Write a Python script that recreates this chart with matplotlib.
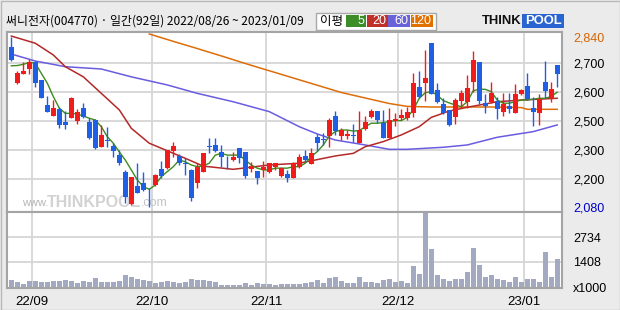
import numpy as np
import matplotlib
matplotlib.use('Agg')
import matplotlib.pyplot as plt
from matplotlib.patches import Rectangle

title = '써니전자(004770) · 일간(92일) 2022/08/26 ~ 2023/01/09'

# daily candles, 2022/08/26 .. 2023/01/09 (92 trading days)
opens = [2789, 2634, 2665, 2680, 2709, 2643, 2557, 2520, 2543, 2499,
         2513, 2502, 2546, 2499, 2505, 2326, 2372, 2331, 2284, 2227,
         2093, 2172, 2183, 2142, 2176, 2235, 2239, 2299, 2281, 2256,
         2233, 2186, 2227, 2333, 2338, 2294, 2258, 2267, 2319, 2295,
         2237, 2230, 2233, 2226, 2244, 2213, 2219, 2206, 2242, 2280,
         2253, 2395, 2382, 2400, 2519, 2400, 2400, 2407, 2354, 2448,
         2516, 2536, 2488, 2388, 2502, 2513, 2513, 2530, 2620, 2634,
         2810, 2609, 2560, 2540, 2517, 2571, 2568, 2637, 2706, 2563,
         2568, 2571, 2534, 2553, 2530, 2594, 2622, 2546, 2530, 2636,
         2580, 2695]
highs = [2840, 2673, 2706, 2722, 2713, 2643, 2588, 2574, 2549, 2536,
         2586, 2543, 2565, 2511, 2508, 2476, 2464, 2354, 2303, 2233,
         2210, 2256, 2227, 2162, 2218, 2265, 2304, 2357, 2288, 2273,
         2235, 2256, 2292, 2384, 2384, 2338, 2280, 2296, 2319, 2295,
         2259, 2230, 2262, 2258, 2258, 2244, 2233, 2259, 2288, 2303,
         2315, 2414, 2419, 2513, 2537, 2453, 2441, 2483, 2536, 2519,
         2542, 2536, 2540, 2546, 2529, 2543, 2551, 2668, 2675, 2771,
         2810, 2634, 2580, 2540, 2580, 2609, 2660, 2768, 2709, 2595,
         2637, 2586, 2597, 2599, 2629, 2611, 2668, 2586, 2595, 2713,
         2637, 2695]
lows = [2715, 2628, 2663, 2663, 2620, 2580, 2534, 2520, 2457, 2446,
        2511, 2483, 2511, 2377, 2310, 2322, 2326, 2277, 2250, 2096,
        2089, 2140, 2151, 2080, 2173, 2204, 2236, 2277, 2250, 2216,
        2107, 2162, 2225, 2290, 2296, 2244, 2235, 2265, 2258, 2206,
        2227, 2181, 2210, 2223, 2233, 2210, 2190, 2206, 2239, 2261,
        2253, 2299, 2338, 2322, 2407, 2372, 2377, 2361, 2354, 2441,
        2511, 2488, 2384, 2384, 2471, 2505, 2505, 2514, 2580, 2572,
        2595, 2565, 2526, 2469, 2483, 2546, 2546, 2603, 2560, 2530,
        2565, 2509, 2520, 2530, 2530, 2592, 2574, 2469, 2476, 2580,
        2568, 2618]
closes = [2719, 2668, 2674, 2709, 2632, 2582, 2534, 2546, 2476, 2476,
          2582, 2534, 2515, 2384, 2315, 2407, 2365, 2299, 2256, 2125,
          2210, 2142, 2154, 2140, 2216, 2212, 2302, 2331, 2258, 2252,
          2118, 2244, 2290, 2326, 2299, 2277, 2256, 2279, 2275, 2212,
          2247, 2206, 2244, 2256, 2256, 2241, 2206, 2256, 2277, 2267,
          2292, 2354, 2370, 2505, 2437, 2441, 2414, 2400, 2441, 2494,
          2536, 2505, 2388, 2505, 2508, 2522, 2534, 2634, 2583, 2651,
          2595, 2568, 2530, 2476, 2574, 2599, 2614, 2719, 2572, 2553,
          2599, 2543, 2560, 2542, 2595, 2609, 2576, 2534, 2576, 2605,
          2611, 2663]
volumes = [436, 345, 218, 381, 381, 327, 309, 363, 381, 436,
           363, 254, 381, 345, 527, 309, 345, 345, 381, 709,
           581, 490, 436, 381, 290, 345, 381, 345, 254, 345,
           490, 436, 418, 381, 345, 164, 164, 164, 164, 290,
           164, 254, 218, 200, 164, 218, 218, 218, 200, 290,
           345, 436, 290, 563, 618, 400, 254, 290, 618, 309,
           345, 290, 436, 490, 345, 381, 290, 1199, 763, 4033,
           2126, 709, 490, 400, 490, 490, 890, 2164, 1254, 600,
           709, 490, 436, 345, 600, 345, 490, 490, 345, 1926,
           600, 1581]

# moving averages
ma5 = [2692, 2693, 2697, 2706, 2701, 2666, 2632, 2586, 2546, 2528,
       2528, 2526, 2519, 2511, 2505, 2464, 2395, 2350, 2295, 2267,
       2233, 2198, 2169, 2157, 2176, 2210, 2227, 2244, 2267, 2261,
       2250, 2244, 2247, 2256, 2284, 2290, 2284, 2284, 2284, 2267,
       2250, 2239, 2233, 2233, 2239, 2239, 2239, 2244, 2244, 2256,
       2279, 2296, 2338, 2400, 2430, 2441, 2441, 2434, 2437, 2464,
       2488, 2488, 2492, 2499, 2503, 2503, 2514, 2540, 2580, 2599,
       2603, 2591, 2572, 2564, 2557, 2551, 2568, 2606, 2611, 2611,
       2603, 2574, 2563, 2563, 2568, 2574, 2574, 2577, 2580, 2580,
       2586, 2601]
ma20_day = [0, 4, 7, 9, 12, 15, 18, 20, 23, 26, 29, 32, 37, 43, 48, 54, 57,
            59, 62, 65, 68, 70, 73, 76, 81, 85, 91]
ma20 = [2845, 2807, 2745, 2689, 2654, 2597, 2540, 2453, 2350, 2299, 2273, 2246,
        2235, 2250, 2256, 2281, 2290, 2326, 2361, 2407, 2464, 2514, 2536, 2549,
        2568, 2574, 2580]
ma60_day = [0, 4, 9, 15, 20, 26, 31, 37, 43, 48, 51, 54, 59, 63, 66, 72, 76,
            81, 87, 91]
ma60 = [2750, 2713, 2689, 2681, 2654, 2626, 2597, 2568, 2534, 2464, 2414, 2372,
        2338, 2308, 2308, 2322, 2338, 2391, 2430, 2476]
ma120_day = [23, 27, 31, 35, 39, 43, 47, 51, 55, 59, 63, 66, 70, 75, 80, 85,
             86, 91]
ma120 = [2856, 2817, 2779, 2740, 2700, 2675, 2650, 2625, 2600, 2581, 2562, 2552,
         2550, 2550, 2550, 2548, 2542, 2542]

price_ticks = [2080, 2200, 2300, 2500, 2600, 2700, 2840]
vol_ticks = [0, 1408, 2734]
vol_labels = ['x1000', '1408', '2734']
month_first_day = [4, 24, 43, 65, 86]
month_labels = ['22/09', '22/10', '22/11', '22/12', '23/01']

# the price axis of this chart is not linear: labels sit on evenly spaced rows
scale_p = [1500, 2080, 2200, 2300, 2500, 2600, 2700, 2840, 3500]
scale_y = [-127.9, 5, 32.5, 61.5, 90.5, 119.5, 148.5, 175, 299.9]


def fwd(v):
    return np.interp(v, scale_p, scale_y)


def inv(p):
    return np.interp(p, scale_y, scale_p)


UP, DOWN = '#f01c1c', '#1f5fe6'
GRID = '#d6d6d6'
EDGE = '#a4a4a4'
LBL = 'Liberation Sans'
KR = ['Noto Sans CJK KR', 'DejaVu Sans']

fig = plt.figure(figsize=(6.2, 3.1), dpi=100, facecolor='#ebebeb')
ax = fig.add_axes([7.3 / 620, 98 / 310, 554.7 / 620, 180.3 / 310])
axv = fig.add_axes([7.3 / 620, 22 / 310, 554.7 / 620, 76 / 310], sharex=ax)

x = np.arange(len(closes))
o = np.array(opens)
c = np.array(closes)
up = c >= o
colors = np.where(up, UP, DOWN)

ax.set_yscale('function', functions=(fwd, inv))
ax.set_ylim(2058, 2868)
ax.set_xlim(-0.67, 91.8)

for m in month_first_day:
    ax.axvline(m - 0.5, color=GRID, lw=1.3, zorder=0)
    axv.axvline(m - 0.5, color=GRID, lw=1.3, zorder=0)
for p in price_ticks[1:-1]:
    ax.axhline(p, color=GRID, lw=1.3, zorder=0)
for v in vol_ticks[1:]:
    axv.axhline(v, color=GRID, lw=1.3, zorder=0)

# watermark
ax.text(0.027, 0.05, 'www.', transform=ax.transAxes, color='#b4b4b4',
        fontsize=8, family=LBL, va='center', zorder=1)
ax.text(0.072, 0.055, 'THINKPOOL', transform=ax.transAxes, color='#d2d2d2',
        fontsize=11.5, family=LBL, fontweight='bold', va='center', zorder=1)
ax.text(0.24, 0.05, '.com', transform=ax.transAxes, color='#c4c4c4',
        fontsize=9, family=LBL, va='center', zorder=1)

ax.plot(ma120_day, ma120, color='#dc6e0a', lw=1.1, zorder=2)
ax.plot(ma60_day, ma60, color='#6a5ce0', lw=1.1, zorder=2)
ax.plot(ma20_day, ma20, color='#b42828', lw=1.1, zorder=2)
ax.plot(x, ma5, color='#3c8c1e', lw=1.0, zorder=2)

ax.vlines(x, lows, highs, colors=colors, lw=1.0, zorder=3)
body = np.maximum(np.abs(c - o), 2)
ax.bar(x, body, bottom=np.minimum(o, c), width=0.78, color=colors,
       linewidth=0, zorder=4)

ax.yaxis.tick_right()
ax.set_yticks(price_ticks)
ax.set_yticklabels([f'{p:,}' for p in price_ticks])
ax.yaxis.set_minor_locator(matplotlib.ticker.NullLocator())
ax.tick_params(axis='y', length=0, pad=8, labelsize=9)
for t in ax.get_yticklabels():
    t.set_family(LBL)
ax.get_yticklabels()[0].set_color('#0000c8')
ax.get_yticklabels()[-1].set_color('#d86400')
ax.tick_params(axis='x', length=0, labelbottom=False)

axv.bar(x, volumes, width=0.78, color='#a2a9c0', linewidth=0, zorder=2)
axv.set_ylim(0, 4114)
axv.yaxis.tick_right()
axv.set_yticks(vol_ticks)
axv.set_yticklabels(vol_labels)
axv.tick_params(axis='y', length=0, pad=8, labelsize=9)
axv.set_xticks([m - 0.5 for m in month_first_day])
axv.set_xticklabels(month_labels)
axv.tick_params(axis='x', length=0, pad=6, labelsize=9.5)
for t in axv.get_yticklabels() + axv.get_xticklabels():
    t.set_family(LBL)

for a in (ax, axv):
    a.set_facecolor('white')
    for s in a.spines.values():
        s.set_color(EDGE)
        s.set_linewidth(1.5)

# header
hdr = fig.add_axes([0, 0, 1, 1])
hdr.set_xlim(0, 620)
hdr.set_ylim(310, 0)
hdr.axis('off')
hdr.add_patch(Rectangle((0.5, 0.5), 619, 309, fill=False, ec='#b8b8b8', lw=1))
hdr.text(6, 21.5, title, fontsize=8.6, va='center', ha='left', family=KR)
hdr.add_patch(Rectangle((316, 12.7), 120, 17.5, fc='white', ec='#a8a8a8', lw=1))
hdr.text(320, 21.5, '이평', fontsize=9, va='center', ha='left', family=KR)
ma_boxes = [('5', '#3c8c28', 345.7, 20.3), ('20', '#c0302a', 366.7, 21),
            ('60', '#6a62d8', 388.3, 21.7), ('120', '#e07000', 411, 22)]
for lab, col, x0, w in ma_boxes:
    hdr.add_patch(Rectangle((x0, 15), w, 12.3, fc=col, ec='none'))
    hdr.text(x0 + w - 1.5, 21.3, lab, fontsize=9, color='white', va='center',
             ha='right', family=LBL)
hdr.text(481.5, 21, 'THINK', fontsize=9.4, fontweight='bold', va='center',
         ha='left', family=LBL, color='#111111')
hdr.add_patch(Rectangle((522, 14), 42, 14.3, fc='#2a64d0', ec='none'))
hdr.text(543, 21, 'POOL', fontsize=9.4, fontweight='bold', va='center',
         ha='center', family=LBL, color='white')

fig.savefig('out.png', dpi=100, facecolor=fig.get_facecolor())
